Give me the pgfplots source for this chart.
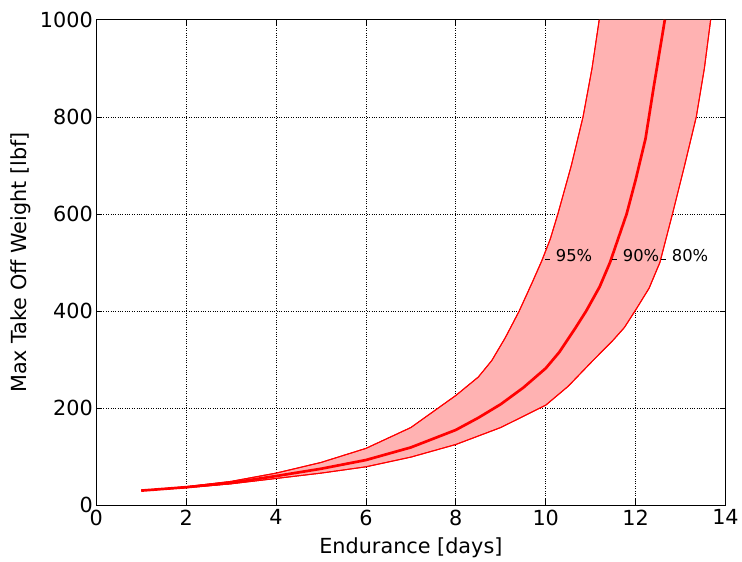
\documentclass[border=0pt]{standalone}
\usepackage{pgfplots}
\pgfplotsset{compat=1.18}
\usepgfplotslibrary{fillbetween}
\usepackage{fontspec}
\setmainfont{DejaVu Sans}
\pgfplotstableread{
x y
1 30
2 38
3 49
4 66
5 88
6 117
7 160
7.5 193
8 226
8.5 264
8.8 298
9.1 345
9.41 400
9.7 459
9.91 503
10.1 548
10.27 600
10.57 700
10.83 800
11.03 900
11.19 1000
}\pninetyfive
\pgfplotstableread{
x y
1 30
2 37
3 46
4 60
5 75
6 93
7 119
8 155
8.5 180
9 208
9.5 242
10 282
10.3 315
10.66 365
10.9 400
11.2 450
11.43 500
11.8 600
12.0 670
12.22 755
12.4 860
12.65 1000
}\pninety
\pgfplotstableread{
x y
1 30
2 36
3 44
4 55
5 66
6 79
7 99
8 125
9 160
10 206
10.5 245
11.03 296
11.5 340
11.75 366
12 402
12.3 447
12.54 500
12.82 600
13.09 700
13.35 800
13.53 900
13.67 1000
}\peighty
\begin{document}
\begin{tikzpicture}
\begin{axis}[
  name=ax,
  scale only axis,
  width=634bp, height=489bp,
  xmin=0, xmax=14, ymin=0, ymax=1000,
  xtick={0,2,...,14}, ytick={0,200,...,1000},
  grid=major,
  major grid style={black, dotted, line width=0.8bp},
  axis line style={black, line width=1bp},
  major tick length=6bp,
  tick style={black, line width=0.8bp},
  /pgf/number format/assume math mode=true,
  /pgf/number format/1000 sep={},
  tick label style={font=\fontsize{21}{24}\selectfont},
  xticklabel style={yshift=-1bp},
  label style={font=\fontsize{21}{24}\selectfont},
  xlabel={Endurance [days]},
  ylabel={Max Take Off Weight [lbf]},
  xlabel style={yshift=-6bp},
  ylabel style={yshift=2bp},
  clip=true,
]
\addplot[name path=p95, red, line width=1bp] table[x=x,y=y] {\pninetyfive};
\addplot[name path=p80, red, line width=1bp] table[x=x,y=y] {\peighty};
\addplot[red!30, draw=none] fill between[of=p95 and p80];
\addplot[red, line width=2.7bp] table[x=x,y=y] {\pninety};
\addplot[red, line width=1bp] table[x=x,y=y] {\pninetyfive};
\addplot[red, line width=1bp] table[x=x,y=y] {\peighty};
\node[anchor=base west, inner sep=0pt, font=\fontsize{16.5}{18}\selectfont] at (axis cs:9.98,503) {\raisebox{1bp}{\rule{5bp}{0.8bp}}\hspace{6bp}95\%};
\node[anchor=base west, inner sep=0pt, font=\fontsize{16.5}{18}\selectfont] at (axis cs:11.47,503) {\raisebox{1bp}{\rule{5bp}{0.8bp}}\hspace{6bp}90\%};
\node[anchor=base west, inner sep=0pt, font=\fontsize{16.5}{18}\selectfont] at (axis cs:12.56,503) {\raisebox{1bp}{\rule{5bp}{0.8bp}}\hspace{6bp}80\%};
\end{axis}
\path (ax.south west) +(-97bp,-54bp);
\path (ax.north east) +(11bp,20bp);
\end{tikzpicture}
\end{document}
